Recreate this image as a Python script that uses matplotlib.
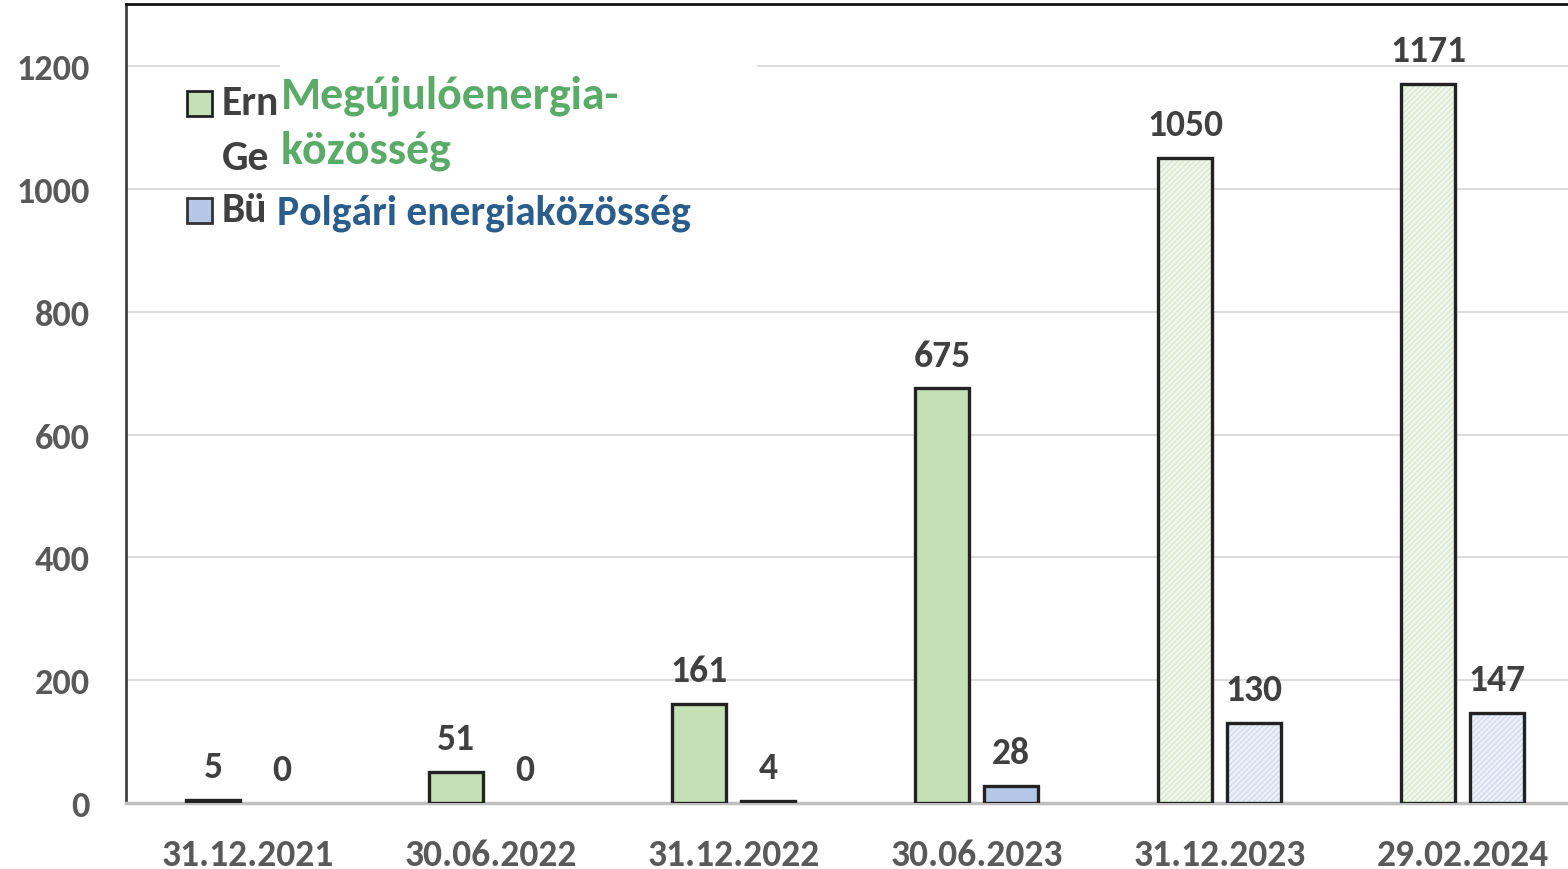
import matplotlib
matplotlib.use("Agg")
import matplotlib.pyplot as plt
from matplotlib.patches import Rectangle
import numpy as np

categories = ["31.12.2021", "30.06.2022", "31.12.2022", "30.06.2023", "31.12.2023", "29.02.2024"]
renewable = [5, 51, 161, 675, 1050, 1171]
citizen = [0, 0, 4, 28, 130, 147]
hatched = [False, False, False, False, True, True]
yticks = [0, 200, 400, 600, 800, 1000, 1200]
label_ren = "Megújulóenergia-\nközösség"
label_cit = "Polgári energiaközösség"

FONT = ["Carlito", "Lato", "DejaVu Sans"]
plt.rcParams["hatch.linewidth"] = 0.9

W, H = 1568, 870
fig = plt.figure(figsize=(W / 100, H / 100), dpi=100)
ax = fig.add_axes([126 / W, 66 / H, (1584 - 126) / W, 799 / H])

def fx(x):
    return x / W

def fy(y):
    return 1 - y / H

x = np.arange(len(categories))
bw = 0.226
off = 0.142
green, green_l = "#c5e0b4", "#f0f6eb"
blue, blue_l = "#b4c7e7", "#ecf1f9"

for i in range(len(categories)):
    for val, xpos, fc, fcl, hc in [(renewable[i], x[i] - off, green, green_l, "#d6e8cb"),
                                    (citizen[i], x[i] + off, blue, blue_l, "#cdd9ed")]:
        if hatched[i]:
            ax.bar(xpos, val, bw, color=fcl, edgecolor=hc, hatch="//////", linewidth=0, zorder=3)
            ax.bar(xpos, val, bw, color="none", edgecolor="#222222" if val > 0 else "none", linewidth=2.4, zorder=4)
        else:
            ax.bar(xpos, val, bw, color=fc, edgecolor="#222222" if val > 0 else "none", linewidth=2.4, zorder=3)
        ax.annotate(str(val), (xpos, val), xytext=(0, 12), textcoords="offset points",
                    ha="center", va="bottom", fontsize=27, fontweight="bold",
                    color="#404040", family=FONT, zorder=5)

ax.set_xlim(-0.5, 5.5)
ax.set_ylim(0, 1301)
ax.set_yticks(yticks)
ax.set_yticklabels([str(t) for t in yticks], fontsize=26, fontweight="heavy", color="#595959", family=FONT)
ax.set_xticks(x)
ax.set_xticklabels(categories, fontsize=27, fontweight="bold", color="#595959", family=FONT)
ax.tick_params(axis="y", length=0, pad=26)
ax.tick_params(axis="x", length=0, pad=25)
ax.grid(axis="y", color="#d9d9d9", linewidth=1.3, zorder=0)
ax.set_axisbelow(True)
ax.spines["right"].set_visible(False)
ax.spines["left"].set_color("#404040")
ax.spines["left"].set_linewidth(2)
ax.spines["top"].set_color("#111111")
ax.spines["top"].set_linewidth(2)
ax.spines["bottom"].set_color("#bfbfbf")
ax.spines["bottom"].set_linewidth(2.5)

# Legend (original labels partially covered by overlay boxes)
ax.add_patch(Rectangle((fx(187), fy(117)), 25 / W, 25 / H, transform=fig.transFigure,
                       facecolor=green, edgecolor="#222222", linewidth=2, zorder=6, clip_on=False))
ax.add_patch(Rectangle((fx(187), fy(224)), 25 / W, 25 / H, transform=fig.transFigure,
                       facecolor=blue, edgecolor="#333333", linewidth=2, zorder=6, clip_on=False))
for t, yy in [("Ern", 104), ("Ge", 158), ("Bü", 211)]:
    ax.text(fx(222), fy(yy), t, transform=fig.transFigure, fontsize=30, fontweight="bold",
            color="#404040", family=FONT, va="center", ha="left", zorder=6)
ax.add_patch(Rectangle((fx(280), fy(188)), (757 - 280) / W, (188 - 65) / H, transform=fig.transFigure,
                       facecolor="white", edgecolor="none", zorder=7, clip_on=False))
ax.add_patch(Rectangle((fx(276), fy(245)), (850 - 276) / W, (245 - 191) / H, transform=fig.transFigure,
                       facecolor="white", edgecolor="none", zorder=7, clip_on=False))
ax.text(fx(281), fy(96), label_ren.split("\n")[0], transform=fig.transFigure, fontsize=33,
        fontweight="bold", color="#5aab68", family=FONT, va="center", ha="left", zorder=8)
ax.text(fx(281), fy(151), label_ren.split("\n")[1], transform=fig.transFigure, fontsize=33,
        fontweight="bold", color="#5aab68", family=FONT, va="center", ha="left", zorder=8)
ax.text(fx(277), fy(213), label_cit, transform=fig.transFigure, fontsize=30,
        fontweight="bold", color="#2a5d8c", family=FONT, va="center", ha="left", zorder=8)

fig.savefig("out.png", dpi=100)
